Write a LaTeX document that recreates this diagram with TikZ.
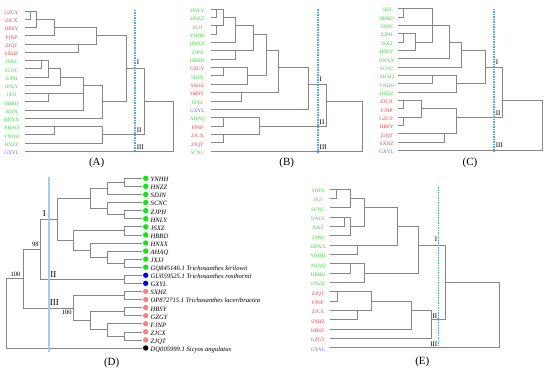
\documentclass[tikz,border=0pt]{standalone}
\usepackage{fontspec}
\setmainfont{Liberation Serif}
\usepackage{xcolor}
\usepackage{tikz}
\usetikzlibrary{calc}

\definecolor{grpred}{RGB}{245,60,60}
\definecolor{grpgreen}{RGB}{60,210,60}
\definecolor{grpblue}{RGB}{100,100,245}
\definecolor{dotgreen}{RGB}{20,230,20}
\definecolor{dotblue}{RGB}{0,0,240}
\definecolor{dotred}{RGB}{245,130,130}
\definecolor{branchgray}{RGB}{135,135,135}
\definecolor{cutblue}{RGB}{80,165,235}

% junction: name, x, upper child, lower child, row of the outgoing branch
\newcommand{\mrg}[5]{%
  \coordinate (#1) at (#2,#5);
  \draw[branch] (#3) -- (#3 -| #1) -- (#4 -| #1) -- (#4);
}

\begin{document}
\begin{tikzpicture}[
        x=1pt, y=-1pt,
        branch/.style={draw=branchgray, line width=0.65pt},
        cut/.style={draw=cutblue, line width=1.1pt, dash pattern=on 1.5pt off 1pt},
        guide/.style={draw=cutblue!55, line width=1.1pt},
        leaf/.style={font=\fontsize{5.2}{6}\selectfont, inner sep=0pt, text height=1.5ex, text depth=0pt},
        tag/.style={font=\fontsize{7}{8}\selectfont, inner sep=0pt, anchor=west},
        bigtag/.style={font=\fontsize{9}{10}\selectfont, inner sep=0pt},
        support/.style={font=\fontsize{6.5}{7}\selectfont, inner sep=0pt},
        caption/.style={font=\fontsize{11}{13}\selectfont, inner sep=0pt},
        dot/.style={circle, minimum size=5.4pt, inner sep=0pt},
        dleaf/.style={font=\fontsize{6.6}{7.5}\selectfont\itshape, inner sep=0pt, anchor=west, text height=1.5ex, text depth=0pt}
    ]
    \useasboundingbox (0,0) rectangle (550,373);

    % (A)
    \begin{scope}[yshift=-11pt, y=-8.25pt]
    \foreach \lab/\col [count=\i from 0] in {GZGY/grpred, ZJCX/grpred, HBSY/grpred, FJNP/grpred, ZJQT/grpred, SXHZ/grpred, JSXZ/grpgreen, SCNC/grpgreen, ZJPH/grpgreen, HNLY/grpgreen, JXJJ/grpgreen, HBBD/grpgreen, SDJN/grpgreen, HNXX/grpgreen, AHAQ/grpgreen, YNHH/grpgreen, HNZZ/grpgreen, GXYL/grpblue} {
        \node[leaf, text=\col] (tA\lab) at (11.5,\i) {\lab};
        \coordinate (A\lab) at (25,\i);
    }
    \mrg{a1}{30.7}{AGZGY}{AZJCX}{0}
    \mrg{a2}{36}{a1}{AHBSY}{1}
    \mrg{a3}{54.3}{a2}{AFJNP}{2}
    \mrg{a4}{78.3}{AZJQT}{ASXHZ}{4}
    \mrg{a5}{96.7}{a3}{a4}{3}
    \mrg{a6}{41.7}{AJSXZ}{ASCNC}{6}
    \mrg{a7}{48.3}{a6}{AZJPH}{7}
    \mrg{a8}{60}{a7}{AHNLY}{8}
    \mrg{a9}{48.3}{AJXJJ}{AHBBD}{10}
    \mrg{a10}{83.3}{a8}{a9}{9}
    \mrg{a11}{83.3}{a10}{ASDJN}{9}
    \mrg{a12}{102}{a11}{AHNXX}{11}
    \mrg{a13}{126}{a5}{a12}{7}
    \mrg{a14}{54.7}{AAHAQ}{AYNHH}{14}
    \mrg{a15}{102}{a14}{AHNZZ}{15}
    \mrg{a16}{144}{a13}{a15}{11}
    \mrg{a17}{173.3}{a16}{AGXYL}{14}
    \draw[cut] (135,-0.15) -- (135,17.1);
    \node[tag] (IA) at (136.7,6.2) {I};
    \node[tag] (IIA) at (136.7,14.4) {II};
    \node[tag] (IIIA) at (136.7,16.45) {III};
    \end{scope}
    \node[caption] (capA) at (96.7,163.3) {(A)};

    % (B)
    \begin{scope}[yshift=-9pt, y=-8.35pt]
    \foreach \lab/\col [count=\i from 0] in {HNLY/grpgreen, HNZZ/grpgreen, JXJJ/grpgreen, YNHH/grpgreen, HNXX/grpgreen, ZJPH/grpgreen, HBBD/grpgreen, GZGY/grpred, SDJN/grpgreen, SXHZ/grpred, HBSY/grpred, JSXZ/grpgreen, GXYL/grpblue, AHAQ/grpgreen, FJNP/grpred, ZJCX/grpred, ZJQT/grpred, SCNC/grpgreen} {
        \node[leaf, text=\col] (tB\lab) at (197.3,\i) {\lab};
        \coordinate (B\lab) at (210.7,\i);
    }
    \mrg{b1}{216.7}{BHNLY}{BHNZZ}{0}
    \mrg{b2}{216.7}{BJXJJ}{BYNHH}{2}
    \mrg{b3}{223.3}{b1}{b2}{1}
    \mrg{b4}{235}{b3}{BHNXX}{2}
    \mrg{b5}{235}{BZJPH}{BHBBD}{5}
    \mrg{b6}{253.3}{b4}{b5}{3}
    \mrg{b7}{223.3}{BGZGY}{BSDJN}{7}
    \mrg{b8}{247.7}{b7}{BSXHZ}{8}
    \mrg{b9}{266}{b6}{b8}{5}
    \mrg{b10}{241}{BHBSY}{BJSXZ}{10}
    \mrg{b11}{278.3}{b9}{b10}{7}
    \mrg{b12}{308.3}{b11}{BGXYL}{9}
    \mrg{b13}{223.3}{BAHAQ}{BFJNP}{13}
    \mrg{b14}{223.3}{BZJCX}{BZJQT}{15}
    \mrg{b15}{259.3}{b13}{b14}{14}
    \mrg{b16}{326.7}{b12}{b15}{11}
    \mrg{b17}{362}{b16}{BSCNC}{14}
    \draw[cut] (318,0) -- (318,17.1);
    \node[tag] (IB) at (319.5,8.4) {I};
    \node[tag] (IIB) at (319.5,13.6) {II};
    \node[tag] (IIIB) at (319.5,16.5) {III};
    \end{scope}
    \node[caption] (capB) at (286.7,163.3) {(B)};

    % (C)
    \begin{scope}[yshift=-8.5pt, y=-8.35pt]
    \foreach \lab/\col [count=\i from 0] in {JXJJ/grpgreen, HBBD/grpgreen, SDJN/grpgreen, ZJPH/grpgreen, JSXZ/grpgreen, HNLY/grpgreen, HNXX/grpgreen, SCNC/grpgreen, AHAQ/grpgreen, YNHH/grpgreen, HNZZ/grpgreen, ZJCX/grpred, FJNP/grpred, GZGY/grpred, HBSY/grpred, ZJQT/grpred, SXHZ/grpred, GXYL/grpblue} {
        \node[leaf, text=\col] (tC\lab) at (386.7,\i) {\lab};
        \coordinate (C\lab) at (398.3,\i);
    }
    \mrg{c1}{403.3}{CJXJJ}{CHBBD}{0}
    \mrg{c2}{403.3}{CZJPH}{CJSXZ}{3}
    \mrg{c3}{415}{c2}{CHNLY}{4}
    \mrg{c4}{432.7}{c1}{c3}{2}
    \mrg{c5}{432.7}{c4}{CSDJN}{2}
    \mrg{c6}{449.3}{c5}{CHNXX}{4}
    \mrg{c7}{461.7}{c6}{CSCNC}{5}
    \mrg{c8}{432.7}{CAHAQ}{CYNHH}{8}
    \mrg{c9}{456}{c8}{CHNZZ}{9}
    \mrg{c10}{485}{c7}{c9}{7}
    \mrg{c11}{403.3}{CZJCX}{CFJNP}{11}
    \mrg{c12}{403.3}{CGZGY}{CHBSY}{13}
    \mrg{c13}{421}{c11}{c12}{12}
    \mrg{c14}{444.3}{CZJQT}{CSXHZ}{15}
    \mrg{c15}{456}{c13}{c14}{13}
    \mrg{c16}{502.3}{c10}{c15}{11}
    \mrg{c17}{542.7}{c16}{CGXYL}{14}
    \draw[cut] (494,0) -- (494,17.1);
    \node[tag] (IC) at (495.7,6.4) {I};
    \node[tag] (IIC) at (495.7,12.5) {II};
    \node[tag] (IIIC) at (495.7,16.4) {III};
    \end{scope}
    \node[caption] (capC) at (470,163.3) {(C)};

    % (D)
    \begin{scope}[yshift=-178.3pt, y=-8.08pt]
    \foreach \nm/\txt/\col [count=\i from 0] in {YNHH/YNHH/dotgreen, HNZZ/HNZZ/dotgreen, SDJN/SDJN/dotgreen, SCNC/SCNC/dotgreen, ZJPH/ZJPH/dotgreen, HNLY/HNLY/dotgreen, JSXZ/JSXZ/dotgreen, HBBD/HBBD/dotgreen, HNXX/HNXX/dotgreen, AHAQ/AHAQ/dotgreen, JXJJ/JXJJ/dotgreen, GQ/GQ845146.1 Trichosanthes kirilowii/dotgreen, GU/GU059525.1 Trichosanthes rosthornii/dotblue, GXYL/GXYL/dotblue, SXHZ/SXHZ/dotred, OP/OP872715.1 Trichosanthes laceribractea/dotred, HBSY/HBSY/dotred, GZGY/GZGY/dotred, FJNP/FJNP/dotred, ZJCX/ZJCX/dotred, ZJQT/ZJQT/dotred, DQ/DQ005999.1 Sicyos angulatus/black} {
        \coordinate (D\nm) at (141.7,\i);
        \node[dot, fill=\col] (pD\nm) at (145.7,\i) {};
        \node[dleaf] (tD\nm) at (150.5,\i) {\txt};
    }
    \mrg{d1}{124}{DYNHH}{DHNZZ}{0.5}
    \mrg{d2}{107.3}{d1}{DSDJN}{1.25}
    \mrg{d3}{124}{DZJPH}{DHNLY}{4.5}
    \mrg{d4}{107.3}{DSCNC}{d3}{3.75}
    \mrg{d5}{90.7}{d2}{d4}{2.5}
    \mrg{d6}{124}{DJSXZ}{DHBBD}{6.5}
    \mrg{d7}{124}{DJXJJ}{DGQ}{10.5}
    \mrg{d8}{107.3}{DAHAQ}{d7}{9.75}
    \mrg{d9}{90.7}{DHNXX}{d8}{8.875}
    \mrg{d10}{73.3}{d6}{d9}{7.69}
    \mrg{d11}{57.7}{d5}{d10}{5.09}
    \mrg{d12}{124}{DGU}{DGXYL}{12.5}
    \mrg{d13}{40}{d11}{d12}{8.8}
    \mrg{d14}{124}{DSXHZ}{DOP}{14.5}
    \mrg{d15}{124}{DHBSY}{DGZGY}{16.5}
    \mrg{d16}{124}{DZJCX}{DZJQT}{19.5}
    \mrg{d17}{107.3}{DFJNP}{d16}{18.75}
    \mrg{d18}{90.7}{d15}{d17}{17.63}
    \mrg{d19}{73.3}{d14}{d18}{16.06}
    \mrg{d20}{23.3}{d13}{d19}{12.43}
    \mrg{d21}{6.7}{d20}{DDQ}{16.7}
    \end{scope}
    \draw[guide] (49,176.7) -- (49,351.7);
    \node[bigtag] (ID) at (44.3,213.3) {I};
    \node[bigtag] (IID) at (53.3,275) {II};
    \node[bigtag] (IIID) at (54.3,302.3) {III};
    \node[support] (s98) at (35.3,244) {98};
    \node[support] (s100a) at (15.5,274) {100};
    \node[support] (s100b) at (66.8,312.2) {100};
    \node[caption] (capD) at (111.7,363.3) {(D)};

    % (E)
    \begin{scope}[yshift=-189pt, y=-9.34pt]
    \foreach \lab/\col [count=\i from 0] in {SDJN/grpgreen, JXJJ/grpgreen, SCNC/grpgreen, HNLY/grpgreen, JSXZ/grpgreen, ZJPH/grpgreen, HNXX/grpgreen, YNHH/grpgreen, AHAQ/grpgreen, HBBD/grpgreen, HNZZ/grpgreen, ZJQT/grpred, FJNP/grpred, ZJCX/grpred, SXHZ/grpred, HBSY/grpred, GZGY/grpred, GXYL/grpblue} {
        \node[leaf, text=\col] (tE\lab) at (318,\i) {\lab};
        \coordinate (E\lab) at (330,\i);
    }
    \mrg{e1}{336.7}{ESDJN}{EJXJJ}{0}
    \mrg{e2}{350.7}{e1}{ESCNC}{1}
    \mrg{e3}{344.3}{EHNLY}{EJSXZ}{3}
    \mrg{e4}{350.7}{e3}{EZJPH}{4}
    \mrg{e5}{364.3}{e2}{e4}{2}
    \mrg{e6}{357.7}{EHNXX}{EYNHH}{6}
    \mrg{e7}{397.7}{e5}{e6}{4}
    \mrg{e8}{350.7}{EAHAQ}{EHBBD}{8}
    \mrg{e9}{364.3}{e8}{EHNZZ}{9}
    \mrg{e10}{418.3}{e7}{e9}{6}
    \mrg{e11}{337.3}{EZJQT}{EFJNP}{11}
    \mrg{e12}{357.7}{EZJCX}{ESXHZ}{13}
    \mrg{e13}{371}{e11}{e12}{12}
    \mrg{e14}{411}{e13}{EHBSY}{13}
    \mrg{e15}{431.7}{e14}{EGZGY}{14}
    \mrg{e16}{445}{e10}{e15}{10}
    \mrg{e17}{499.3}{e16}{EGXYL}{13}
    \draw[cut] (438.3,-0.2) -- (438.3,17.05);
    \node[tag, anchor=east] (IE) at (437.5,5.4) {I};
    \node[tag, anchor=east] (IIE) at (437.5,13.57) {II};
    \node[tag, anchor=east] (IIIE) at (437.5,16.6) {III};
    \end{scope}
    \node[caption] (capE) at (422.3,362.3) {(E)};

\end{tikzpicture}
\end{document}
